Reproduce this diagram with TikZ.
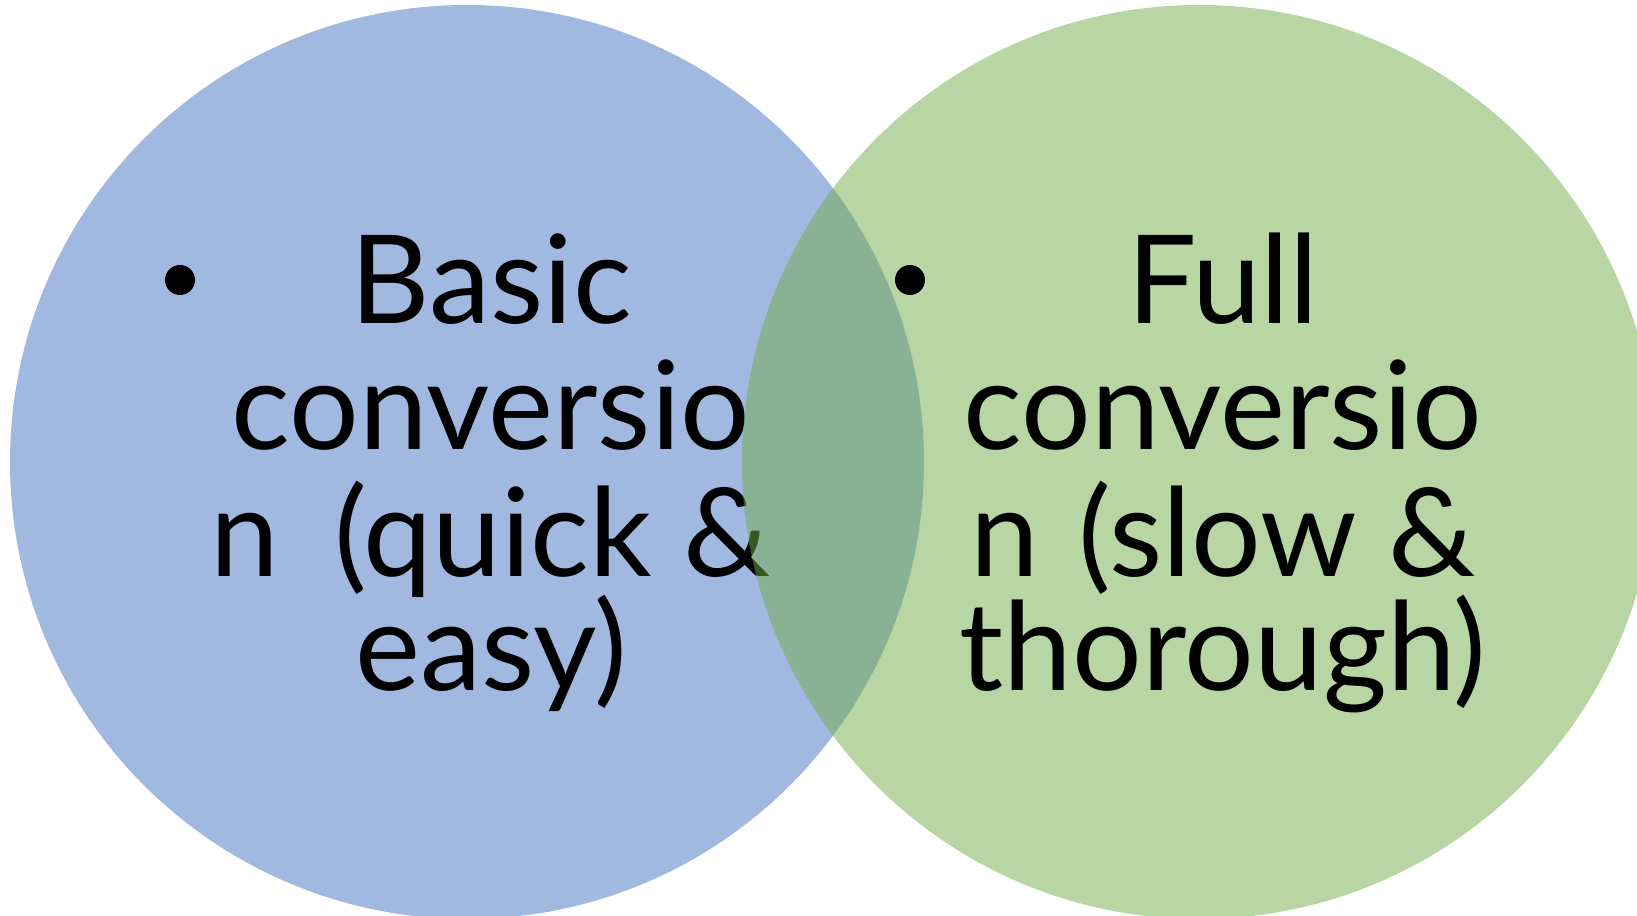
\documentclass[tikz,border=0pt]{standalone}
\usepackage{xcolor}
\usepackage{fontspec}
\usepackage{tikz}
\newfontfamily\vennfont{Lato}
\tikzset{
	vennset/.style = {circle, inner sep=0pt, minimum size=9.14cm, fill opacity=0.5, draw=none},
	setline/.style = {anchor=base, inner sep=0pt, text=black, font=\vennfont\fontsize{35}{42}\selectfont},
	bulletdot/.style = {circle, inner sep=0pt, minimum size=0.3cm, fill=black},
}
\definecolor{setblue}{HTML}{4472C4}
\definecolor{setgreen}{HTML}{70AD47}

\begin{document}
\begin{tikzpicture}
	\useasboundingbox (0,0) rectangle (16.37,9.15);

	% left set and its text
	\node[vennset, fill=setblue] (basic) at (4.67, 4.53) {};
	\node[bulletdot] (bb) at (1.80, 6.35) {};
	\node[setline] (b1) at (4.91, 5.91) {Basic};
	\node[setline] (b2) at (4.91, 4.65) {conversio};
	\node[setline] (b3) at (4.91, 3.38) {n\hspace{0.55cm}(quick \&};
	\node[setline] (b4) at (4.91, 2.24) {easy)};

	% right set, drawn over the left text
	\node[vennset, fill=setgreen] (full) at (11.99, 4.53) {};
	\node[bulletdot] (fb) at (9.10, 6.35) {};
	\node[setline] (f1) at (12.23, 5.91) {Full};
	\node[setline] (f2) at (12.23, 4.65) {conversio};
	\node[setline] (f3) at (12.23, 3.38) {n\hspace{0.4cm}(slow \&};
	\node[setline] (f4) at (12.23, 2.24) {thorough)};
\end{tikzpicture}
\end{document}
